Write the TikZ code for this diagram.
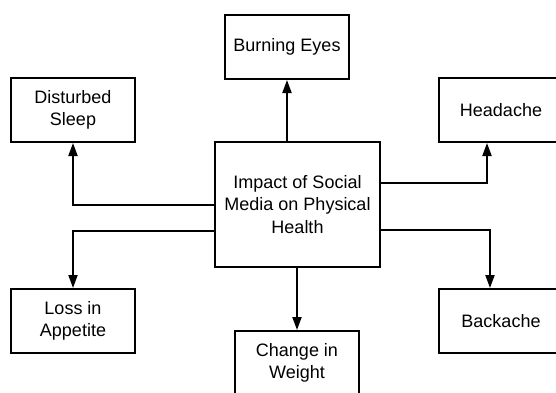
\documentclass[tikz,border=0pt]{standalone}
\usepackage{fontspec}
\setmainfont{Liberation Sans}
\usepackage{tikz}
\usetikzlibrary{arrows.meta}

\tikzset{
  box/.style={draw, line width=1pt, minimum width=62pt, minimum height=32pt,
    inner sep=0pt, align=center, font=\fontsize{9}{11.25}\selectfont},
  arr/.style={line width=1pt, -{Triangle[length=6.5pt, width=4.5pt]}}
}

\begin{document}
\begin{tikzpicture}[x=0.5pt, y=-0.5pt]
      \clip (0, 0) rectangle (556, 392);
      \node[box, minimum width=82.5pt, minimum height=62.5pt] (1) at (297.5, 204.5){Impact of Social\\Media on Physical\\Health};
      \node[box] (2) at (287, 47){Burning Eyes};
      \node[box] (3) at (73, 110){Disturbed\\Sleep};
      \node[box] (4) at (501, 110){Headache};
      \node[box] (5) at (73, 321){Loss in\\Appetite};
      \node[box] (6) at (297, 363){Change in\\Weight};
      \node[box] (7) at (501, 321){Backache};
      
      \draw[arr] (2.south |- 1.north) -- (2.south);
      \draw[arr] (1.west |- 0, 205) -| (3.south);
      \draw[arr] (1.west |- 0, 231) -| (5.north);
      \draw[arr] (1.east |- 0, 183) -| (4.south -| 487, 0);
      \draw[arr] (1.east |- 0, 230) -| (7.north -| 490, 0);
      \draw[arr] (6.north |- 1.south) -- (6.north);
    \end{tikzpicture}
\end{document}
